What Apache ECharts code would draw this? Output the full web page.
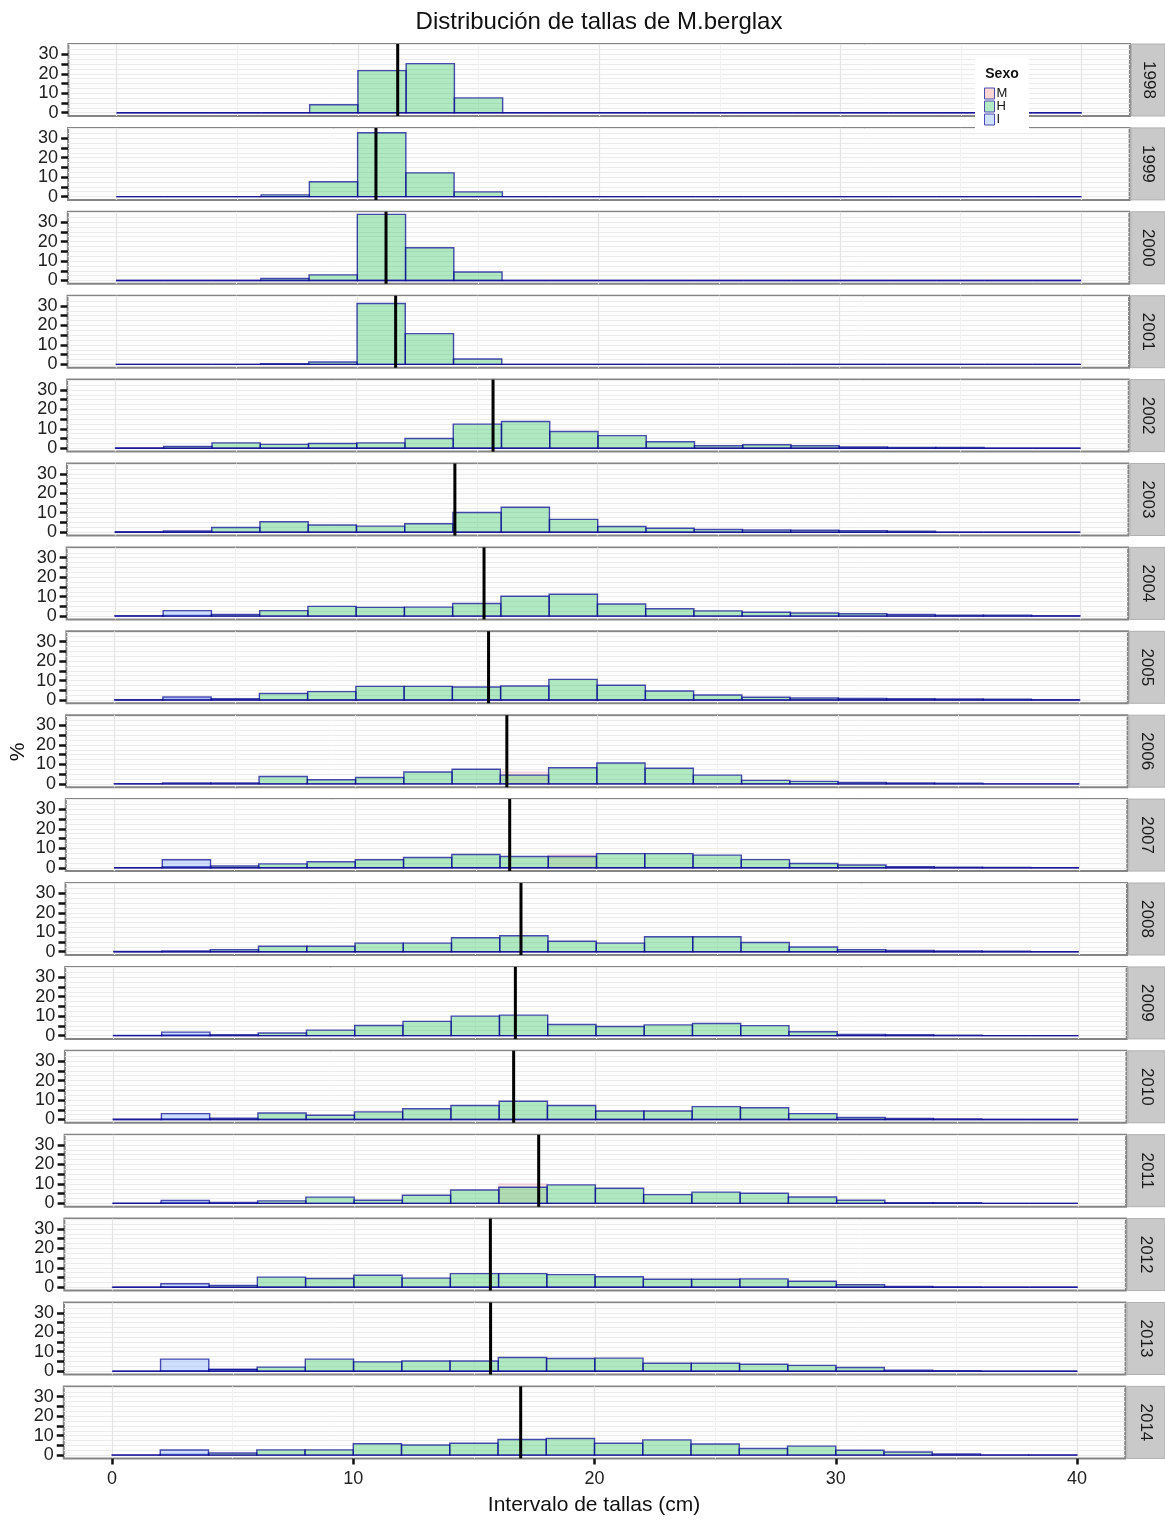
<!DOCTYPE html>
<html><head><meta charset="utf-8">
<script src="https://cdn.jsdelivr.net/npm/echarts@6/dist/echarts.min.js"></script>
<style>html,body{margin:0;padding:0;background:#fff}#chart{width:1165px;height:1521px}</style>
</head><body><div id="chart"></div>
<script>
// ---------------- data ----------------
const YEARS = [1998,1999,2000,2001,2002,2003,2004,2005,2006,2007,2008,2009,2010,2011,2012,2013,2014];
const BIN_STARTS = [0,2,4,6,8,10,12,14,16,18,20,22,24,26,28,30,32,34,36,38];
const BIN_WIDTH = 2;
// % per 2 cm length class, sex H
const H_PCT = [
  [0,0,0,0,4.1,21.6,25.2,7.6,0,0,0,0,0,0,0,0,0,0,0,0],
  [0,0,0,0.9,7.6,32.8,12.2,2.4,0,0,0,0,0,0,0,0,0,0,0,0],
  [0,0,0,1.0,2.9,34.0,16.8,4.4,0,0,0,0,0,0,0,0,0,0,0,0],
  [0,0,0,0.4,1.2,31.3,15.8,2.8,0,0,0,0,0,0,0,0,0,0,0,0],
  [0.2,1.0,2.8,2.0,2.5,2.8,5.0,12.4,13.8,8.6,6.5,3.4,1.3,1.8,1.3,0.7,0.4,0.4,0,0],
  [0.2,0.6,2.4,5.4,3.7,3.1,4.3,10.1,12.8,6.6,2.9,2.0,1.4,1.1,1.0,0.8,0.5,0,0,0],
  [0.2,0.3,0.8,2.8,5.0,4.5,4.6,6.5,10.2,11.2,6.2,3.8,2.7,2.0,1.6,1.2,0.8,0.5,0.4,0.2],
  [0.2,0.3,0.7,3.3,4.3,7.0,7.0,6.7,7.2,10.6,7.6,4.6,2.6,1.4,1.0,0.8,0.7,0.5,0.4,0.1],
  [0.1,0.5,0.5,3.8,2.1,3.3,6.1,7.5,4.5,8.3,10.7,8.0,4.5,1.8,1.3,0.8,0.5,0.4,0,0],
  [0,0.5,0.9,2.0,3.1,4.1,5.3,6.8,5.8,5.8,7.3,7.3,6.5,4.2,2.2,1.4,0.6,0.3,0.2,0],
  [0.1,0.4,1.0,2.8,2.8,4.4,4.4,7.2,8.2,5.4,4.4,7.7,7.7,4.7,2.4,1.0,0.6,0.4,0.3,0],
  [0.1,0.3,0.5,1.3,2.8,5.2,7.3,10.0,10.5,5.7,4.7,5.5,6.2,5.1,2.0,0.6,0.4,0.2,0,0],
  [0.1,0.3,0.6,3.3,2.2,3.9,5.5,7.2,9.4,7.2,4.4,4.4,6.6,6.0,3.0,1.0,0.5,0.3,0,0],
  [0.1,0.3,0.5,1.3,3.2,1.6,4.2,6.9,8.3,9.5,7.8,4.5,5.8,5.2,3.3,1.6,0.4,0.3,0,0],
  [0.1,0.3,1.0,5.2,4.5,6.2,4.7,7.0,7.0,6.5,5.4,4.1,4.1,4.3,3.1,1.3,0.4,0.2,0,0],
  [0,0.3,0.9,2.1,6.2,4.8,5.2,5.2,7.0,6.5,6.7,4.1,4.1,3.6,3.0,1.9,0.5,0.2,0,0],
  [0.1,0.3,1.1,2.7,2.7,5.8,5.2,6.1,8.0,8.5,6.1,7.8,5.7,3.4,4.6,2.5,1.6,0.6,0.1,0.1]
];
// sex I
const I_PCT = [
  [0,0,0,0,0,0,0,0,0,0,0,0,0,0,0,0,0,0,0,0],
  [0,0,0,0,0,0,0,0,0,0,0,0,0,0,0,0,0,0,0,0],
  [0,0,0,0,0,0,0,0,0,0,0,0,0,0,0,0,0,0,0,0],
  [0,0,0,0,0,0,0,0,0,0,0,0,0,0,0,0,0,0,0,0],
  [0,0,0,0,0,0,0,0,0,0,0,0,0,0,0,0,0,0,0,0],
  [0,0,0,0,0,0,0,0,0,0,0,0,0,0,0,0,0,0,0,0],
  [0,2.8,0,0,0,0,0,0,0,0,0,0,0,0,0,0,0,0,0,0],
  [0,1.5,0,0,0,0,0,0,0,0,0,0,0,0,0,0,0,0,0,0],
  [0,0,0,0,0,0,0,0,0,0,0,0,0,0,0,0,0,0,0,0],
  [0,4.1,0,0,0,0,0,0,0,0,0,0,0,0,0,0,0,0,0,0],
  [0,0,0,0,0,0,0,0,0,0,0,0,0,0,0,0,0,0,0,0],
  [0,1.8,0,0,0,0,0,0,0,0,0,0,0,0,0,0,0,0,0,0],
  [0,3.0,0,0,0,0,0,0,0,0,0,0,0,0,0,0,0,0,0,0],
  [0,1.5,0,0,0,0,0,0,0,0,0,0,0,0,0,0,0,0,0,0],
  [0,1.8,0,0,0,0,0,0,0,0,0,0,0,0,0,0,0,0,0,0],
  [0,6.2,0.9,0,0,0,0,0,0,0,0,0,0,0,0,0,0,0,0,0],
  [0,2.6,0,0,0,0,0,0,0,0,0,0,0,0,0,0,0,0,0,0]
];
// sex M
const M_PCT = [
  [0,0,0,0,0,0,0,0,0,0,0,0,0,0,0,0,0,0,0,0],
  [0,0,0,0,0,0,0,0,0,0,0,0,0,0,0,0,0,0,0,0],
  [0,0,0,0,0,0,0,0,0,0,0,0,0,0,0,0,0,0,0,0],
  [0,0,0,0,0,0,0,0,0,0,0,0,0,0,0,0,0,0,0,0],
  [0,0,0,0,0,0,0,0,0,0,0,0,0,0,0,0,0,0,0,0],
  [0,0,0,0,0,0,0,0,0,0,0,0,0,0,0,0,0,0,0,0],
  [0,0,0,0,0,0,0,0,0,0,0,0,0,0,0,0,0,0,0,0],
  [0,0,0,0,0,0,0,0,0,0,0,0,0,0,0,0,0,0,0,0],
  [0,0,0,0,0,0,0,0,6.0,0,0,0,0,0,0,0,0,0,0,0],
  [0,0,0,0,0,0,0,0,0,6.6,0,0,0,0,0,0,0,0,0,0],
  [0,0,0,0,0,0,0,0,0,0,0,0,0,0,0,0,0,0,0,0],
  [0,0,0,0,0,0,0,0,0,0,0,0,0,0,0,0,0,0,0,0],
  [0,0,0,0,0,0,0,0,0,0,0,0,0,0,0,0,0,0,0,0],
  [0,0,0,0,0,0,0,0,10.0,0,0,0,0,0,0,0,0,0,0,0],
  [0,0,0,0,0,0,0,0,0,0,0,0,0,0,0,0,0,0,0,0],
  [0,0,0,0,0,0,0,0,0,0,0,0,0,0,0,0,0,0,0,0],
  [0,0,0,0,0,0,0,0,0,0,0,0,0,0,0,0,0,0,0,0]
];
// mean length per year (cm)
const MEAN_LEN = [11.65,10.76,11.19,11.6,15.65,14.08,15.3,15.5,16.27,16.4,16.88,16.66,16.6,17.65,15.66,15.68,16.94];
const SEXES = ['M','H','I'];
const X_TICKS = [0,10,20,30,40];
const X_MINOR = [5,15,25,35];
const Y_TICKS = [0,5,10,15,20,25,30];
const Y_LABELS = [0,10,20,30];
const Y_GRID = [0,2.5,5,7.5,10,12.5,15,17.5,20,22.5,25,27.5,30,32.5,35];

// ---------------- layout / style ----------------
const FONT = '"Liberation Sans", Arial, Helvetica, sans-serif';
const X_MIN = -2, X_MAX = 42, Y_MIN = -1.7, Y_MAX = 35.3;
const GRID_LEFT0 = 68.4, SHEAR = -0.29, GRID_TOP0 = 44, PANEL_STEP = 83.9, PANEL_H = 72, PANEL_W = 1061.5;
const FILLS = { M: 'rgba(248,118,109,0.14)', H: 'rgba(0,186,56,0.3)', I: 'rgba(97,156,255,0.3)' };
const LEGEND_FILLS = { M: 'rgba(248,118,109,0.3)', H: 'rgba(0,186,56,0.3)', I: 'rgba(97,156,255,0.3)' };
const STROKES = { M: 'rgba(235,175,200,0.45)', H: 'rgba(10,10,150,0.72)', I: 'rgba(10,10,150,0.72)' };
const VALUES = { M: M_PCT, H: H_PCT, I: I_PCT };

function makeRender(fill, stroke) {
  return function (params, api) {
    const lo = api.value(0), hi = api.value(1), v = api.value(2);
    const a = api.coord([lo, 0]);
    const b = api.coord([hi, v]);
    return {
      type: 'rect',
      shape: { x: a[0], y: b[1], width: b[0] - a[0], height: a[1] - b[1] },
      style: { fill: fill, stroke: stroke, lineWidth: 1.4 }
    };
  };
}

const grids = [], xAxes = [], yAxes = [], series = [], graphics = [];
const n = YEARS.length;
YEARS.forEach(function (year, i) {
  const left = GRID_LEFT0 + SHEAR * i;
  const top = GRID_TOP0 + PANEL_STEP * i;
  const last = i === n - 1;
  grids.push({ left: left, top: top, width: PANEL_W, height: PANEL_H, show: true,
    backgroundColor: '#fdfdfd', borderColor: '#858585', borderWidth: 2, containLabel: false, outerBoundsMode: 'none' });
  xAxes.push({ type: 'value', gridIndex: i, min: X_MIN, max: X_MAX, position: 'bottom',
    axisLine: { show: false, onZero: false },
    axisTick: { show: last, customValues: X_TICKS, length: 6, lineStyle: { color: '#111', width: 2.5 } },
    axisLabel: { show: last, customValues: X_TICKS, fontSize: 18, color: '#222', fontFamily: FONT, margin: 12 },
    splitLine: { show: true, lineStyle: { color: '#e4e4e4', width: 1.2 } } });
  xAxes.push({ type: 'value', gridIndex: i, min: X_MIN, max: X_MAX, position: 'bottom',
    axisLine: { show: false, onZero: false },
    axisTick: { show: false, customValues: X_MINOR },
    axisLabel: { show: false, customValues: X_MINOR },
    splitLine: { show: true, lineStyle: { color: '#f1f1f1', width: 1 } } });
  yAxes.push({ type: 'value', gridIndex: i, min: Y_MIN, max: Y_MAX, position: 'left',
    axisLine: { show: false, onZero: false },
    axisTick: { show: false, customValues: Y_GRID },
    axisLabel: { show: false, customValues: Y_GRID },
    splitLine: { show: true, lineStyle: { color: '#ebebeb', width: 1 } } });
  yAxes.push({ type: 'value', gridIndex: i, min: Y_MIN, max: Y_MAX, position: 'left',
    axisLine: { show: false, onZero: false },
    axisTick: { show: true, customValues: Y_TICKS, length: 7, lineStyle: { color: '#111', width: 2.5 } },
    axisLabel: { show: true, customValues: Y_LABELS, fontSize: 18, color: '#222', fontFamily: FONT, margin: 10 },
    splitLine: { show: false } });

  SEXES.forEach(function (s) {
    const rows = VALUES[s][i];
    series.push({
      type: 'custom', name: s, xAxisIndex: 2 * i, yAxisIndex: 2 * i, z: 2,
      itemStyle: { color: LEGEND_FILLS[s], borderColor: STROKES[s] },
      renderItem: makeRender(FILLS[s], STROKES[s]),
      encode: { x: [0, 1], y: 2 },
      data: BIN_STARTS.map(function (b, k) { return [b, b + BIN_WIDTH, rows[k]]; }),
      silent: true
    });
  });
  series.push({
    type: 'line', name: 'media', xAxisIndex: 2 * i, yAxisIndex: 2 * i, z: 4,
    data: [[MEAN_LEN[i], Y_MIN], [MEAN_LEN[i], Y_MAX]],
    symbol: 'none', silent: true, lineStyle: { color: '#000', width: 3 }
  });

  // facet strip
  const stripX = left + PANEL_W + 1.5;
  graphics.push({ type: 'rect', shape: { x: stripX, y: top, width: 1165 - stripX, height: PANEL_H },
    style: { fill: '#c9c9c9', stroke: '#b0b0b0', lineWidth: 1 }, silent: true });
  graphics.push({ type: 'text', x: stripX + (1165 - stripX) / 2, y: top + PANEL_H / 2, rotation: -Math.PI / 2,
    style: { text: String(year), fontSize: 17, fontFamily: FONT, fill: '#1a1a1a', align: 'center', verticalAlign: 'middle' }, silent: true });
});

// titles
graphics.push({ type: 'text', x: 599, y: 22,
  style: { text: 'Distribución de tallas de M.berglax', fontSize: 24, fontFamily: FONT, fill: '#111', align: 'center', verticalAlign: 'middle' } });
graphics.push({ type: 'text', x: 594, y: 1505,
  style: { text: 'Intervalo de tallas (cm)', fontSize: 21, fontFamily: FONT, fill: '#111', align: 'center', verticalAlign: 'middle' } });
graphics.push({ type: 'text', x: 18, y: 752, rotation: Math.PI / 2,
  style: { text: '%', fontSize: 21, fontFamily: FONT, fill: '#111', align: 'center', verticalAlign: 'middle' } });
// legend box + title
graphics.push({ type: 'rect', z: 10, shape: { x: 975, y: 59, width: 54, height: 74 }, style: { fill: '#ffffff' }, silent: true });
graphics.push({ type: 'text', z: 11, x: 1002, y: 74,
  style: { text: 'Sexo', fontSize: 14, fontWeight: 'bold', fontFamily: FONT, fill: '#111', align: 'center', verticalAlign: 'middle' } });

const option = {
  animation: false,
  backgroundColor: '#ffffff',
  grid: grids,
  xAxis: xAxes,
  yAxis: yAxes,
  series: series,
  graphic: { elements: graphics },
  legend: {
    show: true, z: 20, orient: 'vertical', left: 984, top: 87, padding: 0,
    itemWidth: 10, itemHeight: 11, itemGap: 0, icon: 'rect', selectedMode: false,
    textStyle: { fontSize: 13, fontFamily: FONT, color: '#111', padding: [0, 0, 0, -3] },
    data: SEXES.map(function (s) {
      return { name: s, itemStyle: { color: LEGEND_FILLS[s], borderColor: '#4a4ab0', borderWidth: 1 } };
    })
  }
};
const chart = echarts.init(document.getElementById('chart'), null, { renderer: 'canvas' });
chart.setOption(option);
</script></body></html>
